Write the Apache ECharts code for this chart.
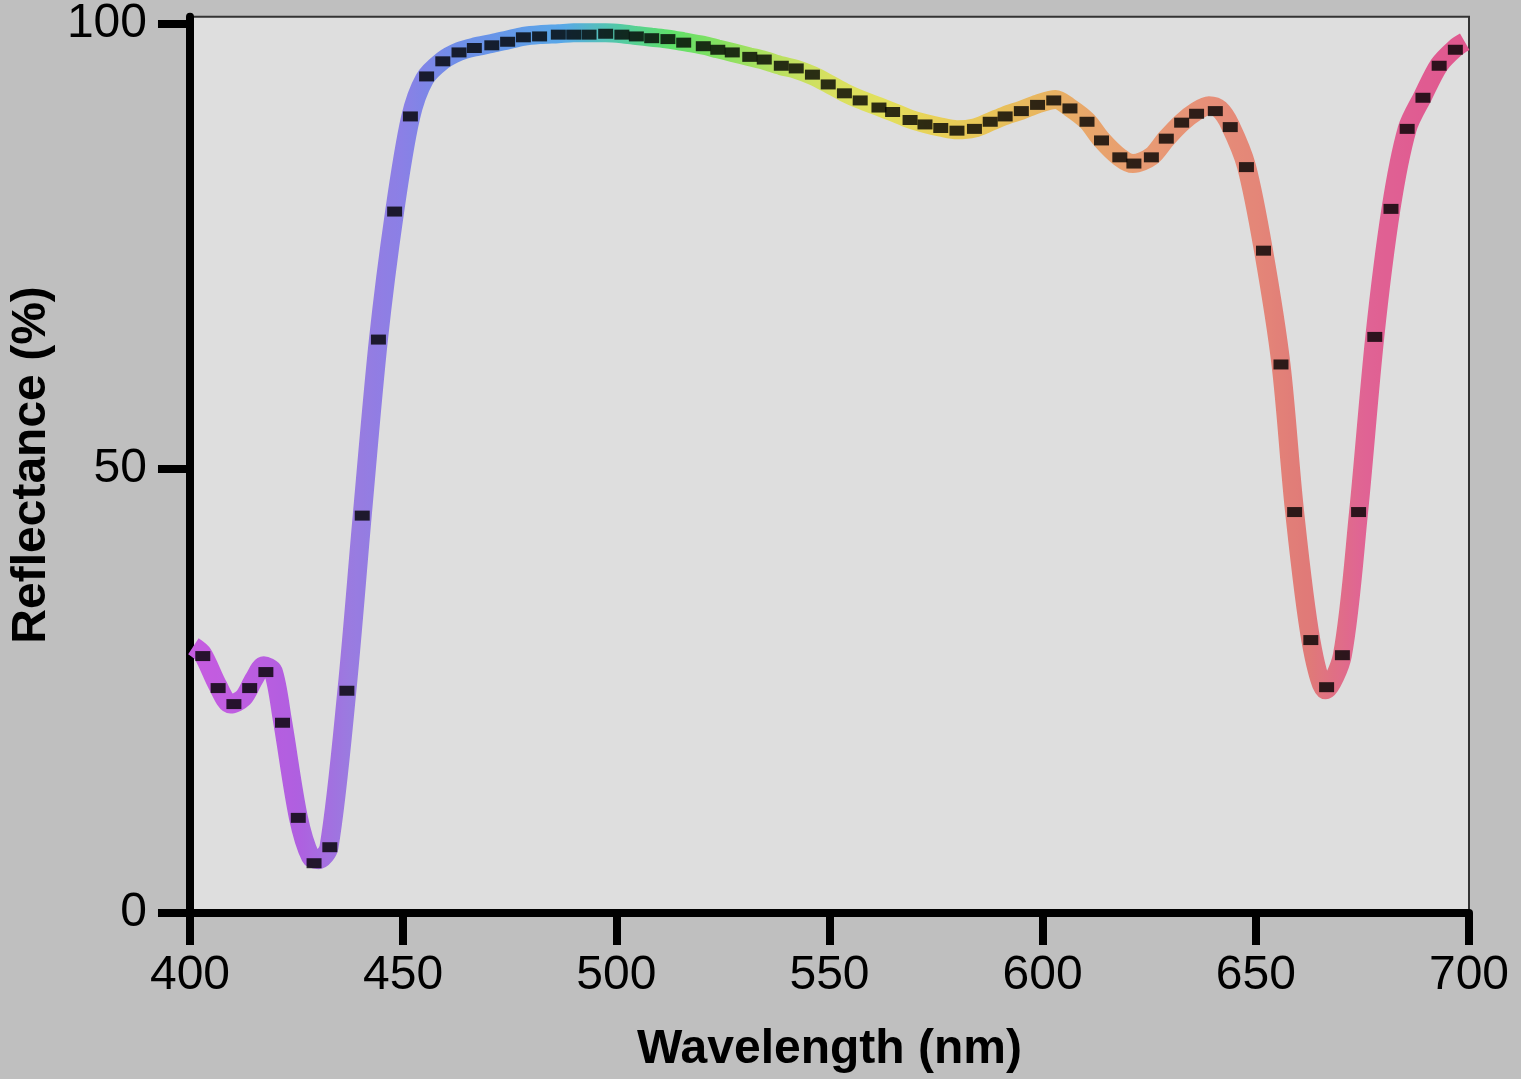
<!DOCTYPE html>
<html>
<head>
<meta charset="utf-8">
<title>Reflectance</title>
<script src="https://cdn.jsdelivr.net/npm/echarts@6/dist/echarts.min.js"></script>
<style>
  html, body { margin: 0; padding: 0; background: #bfbfbf; }
  #chart { width: 1521px; height: 1079px; }
</style>
</head>
<body>
<div id="chart"></div>
<script>
// measured points (black squares)
let pointWl = [403.0, 406.6, 410.3, 414.0, 417.8, 421.7, 425.4, 429.1, 432.8, 436.8,
  440.4, 444.2, 448.0, 451.7, 455.5, 459.3, 463.1, 466.7, 470.8, 474.5,
  478.2, 482.0, 486.4, 490.0, 493.6, 497.5, 501.3, 504.7, 508.3, 512.1,
  515.8, 520.4, 523.8, 527.2, 531.3, 534.7, 538.7, 542.2, 546.0, 549.7,
  553.5, 557.2, 561.6, 564.8, 568.9, 572.4, 576.1, 579.9, 584.0, 587.7,
  591.2, 595.0, 598.8, 602.6, 606.4, 610.4, 613.8, 618.1, 621.4, 625.5,
  629.0, 632.6, 636.1, 640.5, 644.0, 647.8, 651.8, 655.9, 659.1, 662.9,
  666.6, 670.3, 674.1, 677.9, 681.7, 685.5, 689.2, 693.0, 696.8];
let pointVal = [28.9, 25.3, 23.5, 25.3, 27.1, 21.4, 10.7, 5.6, 7.4, 25.0,
  44.7, 64.5, 78.9, 89.6, 94.1, 95.8, 96.8, 97.3, 97.6, 98.0,
  98.5, 98.6, 98.8, 98.8, 98.8, 98.9, 98.8, 98.6, 98.4, 98.3,
  97.9, 97.5, 97.1, 96.8, 96.3, 96.0, 95.3, 95.0, 94.3, 93.2,
  92.2, 91.4, 90.6, 90.1, 89.2, 88.7, 88.3, 88.0, 88.2, 89.0,
  89.6, 90.2, 90.9, 91.4, 90.5, 89.0, 86.9, 85.0, 84.3, 85.0,
  87.1, 88.9, 89.9, 90.2, 88.4, 83.9, 74.5, 61.7, 45.1, 30.7,
  25.4, 29.0, 45.1, 64.8, 79.2, 88.2, 91.7, 95.3, 97.1];

// fitted curve (thick coloured line)
let lineWl = [400.8, 403.0, 406.5, 409.5, 412.5, 415.0, 417.3, 419.5, 421.7, 425.4,
  428.3, 430.2, 432.6, 436.8, 440.4, 444.2, 448.0, 451.7, 455.0, 459.3,
  463.1, 466.7, 470.8, 474.5, 478.2, 482.0, 486.4, 490.0, 493.6, 497.5,
  501.3, 504.7, 508.3, 512.1, 515.8, 520.4, 523.8, 527.2, 531.3, 534.7,
  538.7, 542.2, 546.0, 549.7, 553.5, 557.2, 561.6, 564.8, 568.9, 572.4,
  576.1, 579.9, 584.0, 587.7, 591.2, 595.0, 598.8, 603.0, 606.4, 610.4,
  613.8, 618.1, 621.2, 625.5, 629.0, 632.6, 636.1, 639.0, 641.5, 644.0,
  647.8, 651.8, 655.9, 659.1, 662.9, 666.4, 670.3, 674.1, 677.9, 681.7,
  685.5, 689.2, 693.0, 696.8, 699.0];
let lineVal = [30.0, 29.1, 25.6, 23.5, 24.2, 26.3, 27.8, 27.2, 21.6, 10.8,
  6.3, 6.0, 7.4, 25.0, 44.7, 64.5, 78.9, 89.4, 93.8, 95.9,
  96.9, 97.4, 97.8, 98.2, 98.6, 98.8, 98.9, 99.0, 99.0, 99.0,
  98.9, 98.7, 98.5, 98.3, 98.0, 97.6, 97.2, 96.8, 96.3, 95.9,
  95.3, 94.9, 94.2, 93.3, 92.3, 91.5, 90.7, 90.1, 89.3, 88.8,
  88.4, 88.1, 88.3, 89.0, 89.7, 90.3, 91.0, 91.5, 90.6, 89.1,
  87.0, 85.0, 84.3, 85.1, 87.1, 88.9, 90.2, 90.8, 90.4, 88.6,
  84.0, 74.5, 61.7, 45.1, 30.7, 25.1, 29.0, 45.1, 64.8, 79.2,
  88.2, 91.9, 95.4, 97.3, 98.0];

let xTicks = [400, 450, 500, 550, 600, 650, 700];
let yTicks = [0, 50, 100];

let curveData = lineWl.map(function (w, i) { return [w, lineVal[i]]; });
let pointData = pointWl.map(function (w, i) { return [w, pointVal[i]]; });

let myChart = echarts.init(document.getElementById('chart'));
let font = '"Liberation Sans", Arial, Helvetica, sans-serif';

let option = {
  backgroundColor: '#bfbfbf',
  animation: false,
  grid: {
    left: 185,
    right: 52,
    top: 16,
    bottom: 163,
    show: true,
    backgroundColor: '#dedede',
    borderColor: '#333',
    borderWidth: 2
  },
  // colour the curve by wavelength
  visualMap: {
    show: false,
    type: 'continuous',
    seriesIndex: 0,
    dimension: 0,
    min: 400,
    max: 700,
    inRange: {
      color: ['#c65ce0', '#bd5de0', '#b05fe0', '#9a7be0', '#8a80e6', '#6f8ee8', '#6498e8',
        '#58a8e8', '#52c8a8', '#5ee06a', '#88e060', '#b8e060', '#d8e060', '#e2e05c',
        '#e8d058', '#e8c458', '#e8b460', '#e8a46c', '#e89a74', '#e69078', '#e48678',
        '#e07a78', '#e06494', '#e05c92', '#e0588e']
    }
  },
  xAxis: {
    type: 'value',
    min: xTicks[0],
    max: xTicks[xTicks.length - 1],
    interval: 50,
    name: 'Wavelength (nm)',
    nameLocation: 'middle',
    nameGap: 113,
    nameTextStyle: { fontFamily: font, fontSize: 48, fontWeight: 'bold', color: '#000' },
    axisLine: { lineStyle: { color: '#000', width: 8 } },
    axisTick: { length: 32, lineStyle: { color: '#000', width: 8 } },
    axisLabel: { margin: 39, fontFamily: font, fontSize: 48, color: '#000', showMinLabel: true, showMaxLabel: true },
    splitLine: { show: false }
  },
  yAxis: {
    type: 'value',
    min: 0,
    max: 100.8,
    name: 'Reflectance (%)',
    nameLocation: 'middle',
    nameGap: 120,
    nameTextStyle: { fontFamily: font, fontSize: 48, fontWeight: 'bold', color: '#000' },
    axisLine: { lineStyle: { color: '#000', width: 8 } },
    axisTick: { length: 32, customValues: yTicks, lineStyle: { color: '#000', width: 8 } },
    axisLabel: { margin: 43, customValues: yTicks, fontFamily: font, fontSize: 48, color: '#000' },
    splitLine: { show: false }
  },
  series: [
    {
      name: 'fit',
      type: 'line',
      data: curveData,
      smooth: 0.3,
      showSymbol: false,
      lineStyle: { width: 19, cap: 'butt' },
      z: 2
    },
    {
      name: 'measured',
      type: 'scatter',
      data: pointData,
      symbol: 'rect',
      symbolSize: [15, 10],
      itemStyle: { color: '#000' },
      z: 3
    }
  ]
};
myChart.setOption(option);
</script>
</body>
</html>
